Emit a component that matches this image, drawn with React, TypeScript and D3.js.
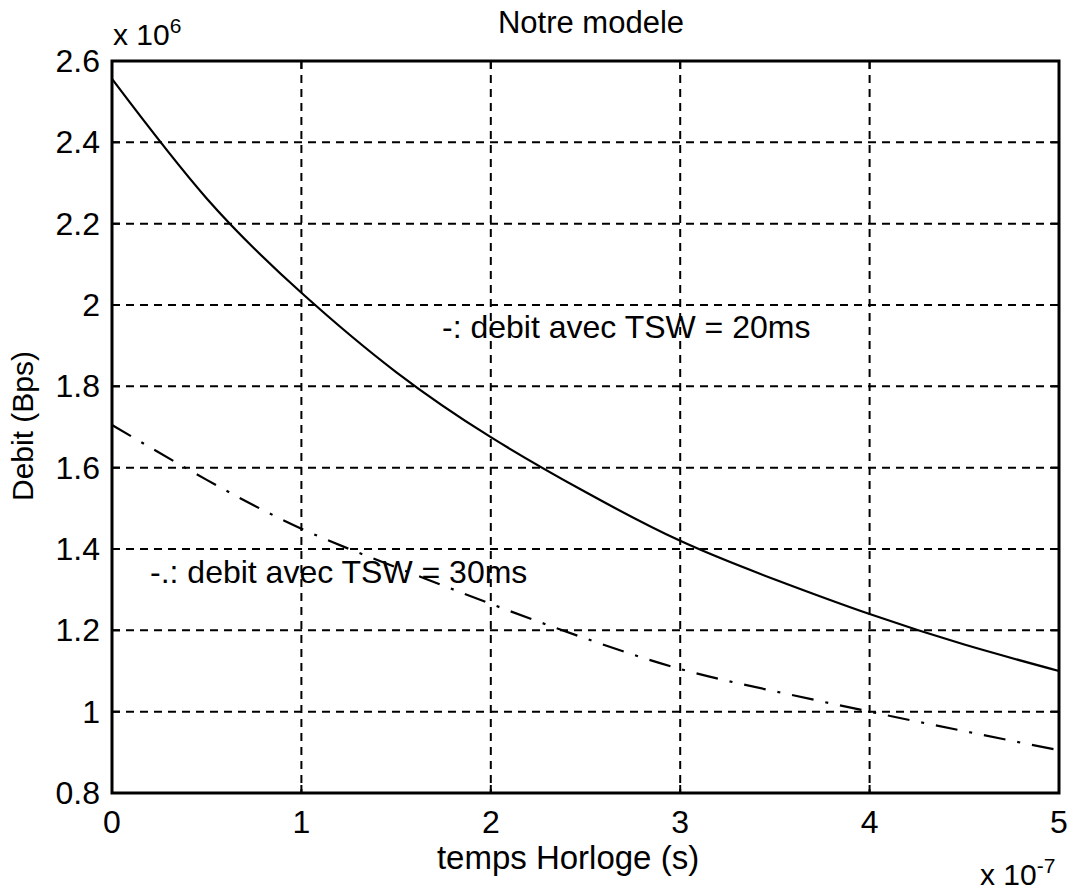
import React from "react";
import * as d3 from "d3";

// ---- data ----
const xTicks = [0, 1, 2, 3, 4, 5];
const yTicks = [0.8, 1, 1.2, 1.4, 1.6, 1.8, 2, 2.2, 2.4, 2.6];
const yTickLabels = ["0.8", "1", "1.2", "1.4", "1.6", "1.8", "2", "2.2", "2.4", "2.6"];

const tsw20X = [0, 0.5, 1.0, 1.5, 2.0, 2.5, 3.0, 3.5, 4.0, 4.5, 5.0];
const tsw20Y = [2.556, 2.262, 2.03, 1.835, 1.675, 1.54, 1.42, 1.325, 1.24, 1.165, 1.1];

const tsw30X = [0, 0.5, 1.0, 1.5, 2.0, 2.5, 3.0, 3.5, 4.0, 4.5, 5.0];
const tsw30Y = [1.705, 1.57, 1.45, 1.355, 1.265, 1.18, 1.105, 1.05, 1.0, 0.952, 0.905];

const title = "Notre modele";
const xLabel = "temps Horloge (s)";
const yLabel = "Debit (Bps)";
const legend20 = "-: debit avec TSW = 20ms";
const legend30 = "-.: debit avec TSW = 30ms";

const W = 1082;
const H = 894;
const L = 112, R = 1059, T = 61, B = 793;
const FONT = "'Liberation Sans', Arial, sans-serif";

export default function App() {
  const x = d3.scaleLinear().domain([0, 5]).range([L, R]);
  const y = d3.scaleLinear().domain([0.8, 2.6]).range([B, T]);
  const line = d3
    .line<[number, number]>()
    .x((d) => x(d[0]))
    .y((d) => y(d[1]))
    .curve(d3.curveNatural);

  const s20 = tsw20X.map((v, i) => [v, tsw20Y[i]] as [number, number]);
  const s30 = tsw30X.map((v, i) => [v, tsw30Y[i]] as [number, number]);

  const gridStyle = { stroke: "#000", strokeWidth: 2, strokeDasharray: "8,6", fill: "none" };

  return (
    <svg
      width={W}
      height={H}
      viewBox={`0 0 ${W} ${H}`}
      style={{ position: "absolute", left: 0, top: 0, background: "#fff" }}
    >
      <rect x={0} y={0} width={W} height={H} fill="#fff" />
      {/* grid */}
      {xTicks.slice(1, -1).map((t) => (
        <line key={"gx" + t} x1={x(t)} x2={x(t)} y1={T} y2={B} {...gridStyle} />
      ))}
      {yTicks.slice(1, -1).map((t) => (
        <line key={"gy" + t} x1={L} x2={R} y1={y(t)} y2={y(t)} {...gridStyle} />
      ))}
      {/* ticks inward */}
      {xTicks.map((t) => (
        <g key={"tx" + t}>
          <line x1={x(t)} x2={x(t)} y1={B} y2={B - 8} stroke="#000" strokeWidth={2} />
          <line x1={x(t)} x2={x(t)} y1={T} y2={T + 8} stroke="#000" strokeWidth={2} />
        </g>
      ))}
      {yTicks.map((t) => (
        <g key={"ty" + t}>
          <line x1={L} x2={L + 8} y1={y(t)} y2={y(t)} stroke="#000" strokeWidth={2} />
          <line x1={R} x2={R - 8} y1={y(t)} y2={y(t)} stroke="#000" strokeWidth={2} />
        </g>
      ))}
      {/* curves */}
      <path d={line(s20) || ""} fill="none" stroke="#000" strokeWidth={2.2} />
      <path
        d={line(s30) || ""}
        fill="none"
        stroke="#000"
        strokeWidth={2.2}
        strokeDasharray="22,12,3,12"
      />
      {/* axes box */}
      <rect x={L} y={T} width={R - L} height={B - T} fill="none" stroke="#000" strokeWidth={3} />
      {/* tick labels */}
      {xTicks.map((t) => (
        <text key={"lx" + t} x={x(t)} y={833} textAnchor="middle" fontFamily={FONT} fontSize={32}>
          {String(t)}
        </text>
      ))}
      {yTicks.map((t, i) => (
        <text
          key={"ly" + t}
          x={100}
          y={y(t) + 11}
          textAnchor="end"
          fontFamily={FONT}
          fontSize={32}
        >
          {yTickLabels[i]}
        </text>
      ))}
      {/* exponents */}
      <text x={113} y={45} fontFamily={FONT} fontSize={30}>
        x 10
        <tspan fontSize={21} dy={-12}>6</tspan>
      </text>
      <text x={980} y={885} fontFamily={FONT} fontSize={30}>
        x 10
        <tspan fontSize={21} dy={-12}>-7</tspan>
      </text>
      {/* title and labels */}
      <text x={591} y={33} textAnchor="middle" fontFamily={FONT} fontSize={31}>
        {title}
      </text>
      <text x={568} y={869} textAnchor="middle" fontFamily={FONT} fontSize={33}>
        {xLabel}
      </text>
      <text
        transform="translate(33,426) rotate(-90)"
        textAnchor="middle"
        fontFamily={FONT}
        fontSize={30}
      >
        {yLabel}
      </text>
      {/* in-plot labels */}
      <text x={442} y={338} fontFamily={FONT} fontSize={32}>
        {legend20}
      </text>
      <text x={150} y={583} fontFamily={FONT} fontSize={32}>
        {legend30}
      </text>
    </svg>
  );
}
